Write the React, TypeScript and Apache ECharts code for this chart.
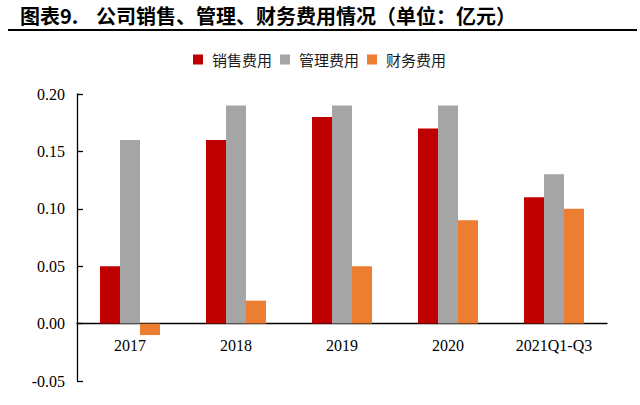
import React, { useEffect, useRef } from 'react';
import * as echarts from 'echarts';

// 公司销售、管理、财务费用（亿元）
const categories = ['2017', '2018', '2019', '2020', '2021Q1-Q3'];
const sellingCost = [0.05, 0.16, 0.18, 0.17, 0.11];
const adminCost = [0.16, 0.19, 0.19, 0.19, 0.13];
const financeCost = [-0.01, 0.02, 0.05, 0.09, 0.1];
const seriesNames = ['销售费用', '管理费用', '财务费用'];
const colors = ['#C00000', '#A5A5A5', '#ED7D31'];

const yMin = -0.05;
const yMax = 0.2;

const serif = '"Liberation Serif", "Times New Roman", serif';
const cjk = '"Noto Sans CJK SC", sans-serif';

const GRID_TOP = 94;
const GRID_BOTTOM = 24;
const HEIGHT = 405;

const App = () => {
    const chartRef = useRef<HTMLDivElement>(null);

    useEffect(() => {
        document.body.style.margin = '0';
        const myChart = echarts.init(chartRef.current, null, { renderer: 'svg' });

        const values = [sellingCost, adminCost, financeCost];
        // x 轴放在 0 处（标签也跟着走）
        const plotH = HEIGHT - GRID_TOP - GRID_BOTTOM;
        const zeroOffset = -plotH * (0 - yMin) / (yMax - yMin);

        const option = {
            animation: false,
            color: colors,
            graphic: [
                {
                    type: 'text',
                    left: 20,
                    top: 5,
                    style: {
                        text: '图表9.',
                        font: `bold 20px ${cjk}`,
                        fill: '#000',
                    },
                },
                {
                    type: 'text',
                    left: 96,
                    top: 5,
                    style: {
                        text: '公司销售、管理、财务费用情况（单位：亿元）',
                        font: `bold 20px ${cjk}`,
                        fill: '#000',
                    },
                },
                {
                    type: 'line',
                    shape: { x1: 8, y1: 30, x2: 637, y2: 30 },
                    style: { stroke: '#000', lineWidth: 2 },
                },
            ],
            legend: {
                left: 193,
                top: 52,
                padding: 0,
                itemWidth: 10,
                itemHeight: 10,
                itemGap: 8,
                icon: 'rect',
                data: seriesNames,
                textStyle: {
                    fontFamily: cjk,
                    fontSize: 15,
                    color: '#1a1a1a',
                    padding: [0, 0, 0, 4],
                },
            },
            grid: {
                left: 77,
                right: 33,
                top: GRID_TOP,
                bottom: GRID_BOTTOM,
                containLabel: false,
                outerBoundsMode: 'none',
            },
            xAxis: {
                type: 'category',
                data: categories,
                offset: zeroOffset,
                axisLine: { onZero: false, lineStyle: { color: '#000', width: 1.3 } },
                axisTick: { show: false },
                axisLabel: {
                    color: '#000',
                    fontFamily: serif,
                    fontSize: 16,
                    margin: 14,
                },
            },
            yAxis: {
                type: 'value',
                min: yMin,
                max: yMax,
                interval: 0.05,
                splitLine: { show: false },
                axisLine: { show: true, lineStyle: { color: '#000', width: 1.3 } },
                axisTick: { show: true, inside: true, length: 6, lineStyle: { color: '#000', width: 1.3 } },
                axisLabel: {
                    color: '#000',
                    fontFamily: serif,
                    fontSize: 16,
                    margin: 12,
                    formatter: (v: number) => v.toFixed(2),
                },
            },
            series: seriesNames.map((name, i) => ({
                name,
                type: 'bar',
                data: values[i],
                barWidth: 20,
                barGap: '0%',
                itemStyle: { color: colors[i] },
            })),
        };

        myChart.setOption(option);

        return () => {
            myChart.dispose();
        };
    }, []);

    return <div ref={chartRef} style={{ width: '640px', height: HEIGHT + 'px' }} />;
};

export default App;
